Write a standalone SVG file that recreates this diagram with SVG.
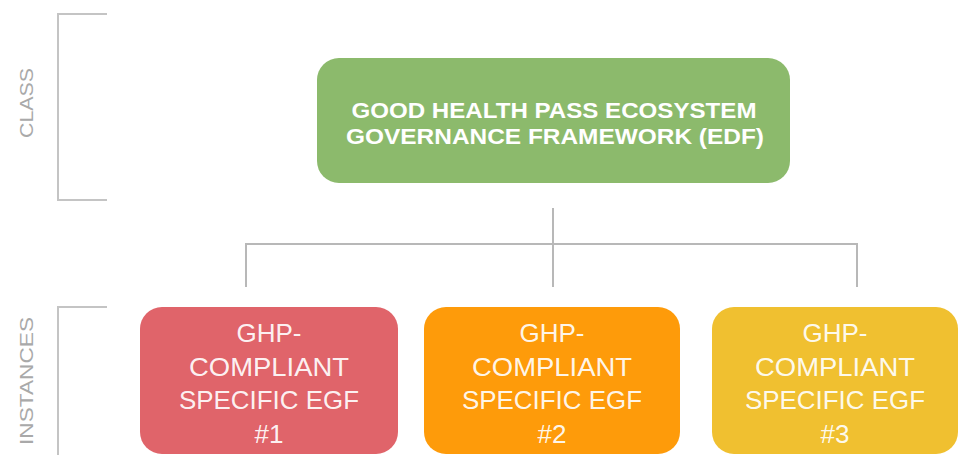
<svg xmlns="http://www.w3.org/2000/svg" width="960" height="455" viewBox="0 0 960 455">
<style>
.bg{fill:#ffffff}
.brk{fill:none;stroke:#c4c4c4;stroke-width:2}
.con{fill:none;stroke:#b8b8b8;stroke-width:2}
.side{font-family:"Liberation Sans",Arial,sans-serif;font-size:18px;fill:#a9a9a9;text-anchor:middle}
.title{font-family:"Liberation Sans",Arial,sans-serif;font-size:22px;font-weight:bold;fill:#ffffff;text-anchor:middle}
.inst{font-family:"Liberation Sans",Arial,sans-serif;font-size:26px;fill:#ffffff;fill-opacity:0.93;text-anchor:middle}
</style>
<rect class="bg" x="0" y="0" width="960" height="455"/>
<g id="class-label">
<path class="brk" d="M107,14 H58 V200 H107"/>
<text class="side" transform="translate(33,103) rotate(-90)" textLength="70" lengthAdjust="spacingAndGlyphs">CLASS</text>
</g>
<g id="instances-label">
<path class="brk" d="M107,307 H58 V455"/>
<text class="side" transform="translate(33,381) rotate(-90)" textLength="128" lengthAdjust="spacingAndGlyphs">INSTANCES</text>
</g>
<g id="connectors">
<path class="con" d="M553,208 V287"/>
<path class="con" d="M246,287 V244 H857 V287"/>
</g>
<g id="edf">
<rect x="317" y="58" width="473" height="125" rx="22" fill="#8cba6c"/>
<text class="title" x="554" y="118" textLength="405" lengthAdjust="spacingAndGlyphs">GOOD HEALTH PASS ECOSYSTEM</text>
<text class="title" x="555" y="144" textLength="418" lengthAdjust="spacingAndGlyphs">GOVERNANCE FRAMEWORK (EDF)</text>
</g>
<g id="egf1">
<rect x="140" y="307" width="258" height="147" rx="22" fill="#e0646a"/>
<text class="inst" x="269" y="342">GHP-</text>
<text class="inst" x="269" y="376" textLength="160" lengthAdjust="spacingAndGlyphs">COMPLIANT</text>
<text class="inst" x="269" y="409" textLength="180" lengthAdjust="spacingAndGlyphs">SPECIFIC EGF</text>
<text class="inst" x="269" y="443">#1</text>
</g>
<g id="egf2">
<rect x="424" y="307" width="256" height="147" rx="22" fill="#fe9b0a"/>
<text class="inst" x="552" y="342">GHP-</text>
<text class="inst" x="552" y="376" textLength="160" lengthAdjust="spacingAndGlyphs">COMPLIANT</text>
<text class="inst" x="552" y="409" textLength="180" lengthAdjust="spacingAndGlyphs">SPECIFIC EGF</text>
<text class="inst" x="552" y="443">#2</text>
</g>
<g id="egf3">
<rect x="712" y="307" width="246" height="147" rx="22" fill="#f0c030"/>
<text class="inst" x="835" y="342">GHP-</text>
<text class="inst" x="835" y="376" textLength="160" lengthAdjust="spacingAndGlyphs">COMPLIANT</text>
<text class="inst" x="835" y="409" textLength="180" lengthAdjust="spacingAndGlyphs">SPECIFIC EGF</text>
<text class="inst" x="835" y="443">#3</text>
</g>
</svg>
